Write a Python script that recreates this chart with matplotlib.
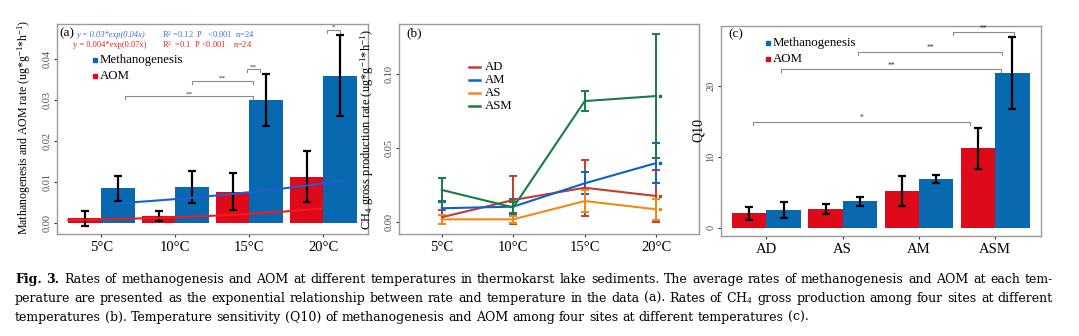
import numpy as np
import matplotlib
matplotlib.use("Agg")
import matplotlib.pyplot as plt

# ---------------- data ----------------
temps = ["5°C", "10°C", "15°C", "20°C"]

# (a) mean rates (ug g-1 h-1) and error
aom_rate = [0.0011, 0.0016, 0.0076, 0.0113]
aom_err = [0.0018, 0.0013, 0.0045, 0.0063]
meth_rate = [0.0084, 0.0087, 0.0301, 0.0360]
meth_err = [0.0031, 0.0039, 0.0064, 0.0100]

# exponential trend curves: start/end (x in category units, y in rate)
meth_trend_x = [0.225, 3.225]
meth_trend_y = [0.00475, 0.0102]
aom_trend_x = [-0.447, 2.98]
aom_trend_y = [0.00066, 0.0035]

# significance brackets for (a)
sig_a_x0 = [0.32, 1.22, 1.97, 3.05]
sig_a_x1 = [2.05, 2.05, 2.14, 3.23]
sig_a_y = [0.0309, 0.0347, 0.0376, 0.0472]
sig_a_lab = ["**", "**", "**", "*"]

# (b) CH4 gross production per site
sites = ["AD", "AM", "AS", "ASM"]
ad_rate = [0.0030, 0.0147, 0.0230, 0.0174]
ad_err = [0.0048, 0.0160, 0.0190, 0.0178]
am_rate = [0.0091, 0.0102, 0.0260, 0.0397]
am_err = [0.0047, 0.0054, 0.0075, 0.0138]
as_rate = [0.0016, 0.0016, 0.0140, 0.0084]
as_err = [0.0030, 0.0022, 0.0073, 0.0070]
asm_rate = [0.0215, 0.0097, 0.0817, 0.0851]
asm_err = [0.0082, 0.0035, 0.0065, 0.0420]

# (c) Q10 per site
q10_sites = ["AD", "AS", "AM", "ASM"]
q10_aom = [2.03, 2.59, 5.21, 11.18]
q10_aom_err = [0.90, 0.70, 2.10, 2.87]
q10_meth = [2.49, 3.72, 6.81, 21.83]
q10_meth_err = [1.08, 0.65, 0.58, 5.10]

sig_c_x0 = [-0.18, 0.19, 1.20, 2.44]
sig_c_x1 = [2.67, 3.08, 3.09, 3.24]
sig_c_y = [14.93, 22.3, 24.75, 27.5]
sig_c_lab = ["*", "**", "**", "**"]

caption_lines = [
    "Fig. 3. Rates of methanogenesis and AOM at different temperatures in thermokarst lake sediments. The average rates of methanogenesis and AOM at each tem-",
    "perature are presented as the exponential relationship between rate and temperature in the data (a). Rates of CH$_4$ gross production among four sites at different",
    "temperatures (b). Temperature sensitivity (Q10) of methanogenesis and AOM among four sites at different temperatures (c).",
]

# ---------------- style ----------------
plt.rcParams["font.family"] = ["Liberation Serif", "DejaVu Serif"]
plt.rcParams["mathtext.fontset"] = "custom"
plt.rcParams["mathtext.rm"] = "Liberation Serif"
plt.rcParams["mathtext.it"] = "Liberation Serif:italic"

RED = "#DE0A1A"
BLUE = "#0868B0"
SITE_COLORS = {"AD": "#C43C2A", "AM": "#0B63C9", "AS": "#F28A17", "ASM": "#1B7A45"}
SPINE = "#9A9A9A"
BRACKET = "#8A8A8A"

W, H = 1079, 336
fig = plt.figure(figsize=(W / 100, H / 100), dpi=100)


def rect(l, r, t, b):
    return [l / W, 1 - b / H, (r - l) / W, (b - t) / H]


def style_axes(ax):
    for s in ax.spines.values():
        s.set_color(SPINE)
        s.set_linewidth(1.0)
    ax.tick_params(axis="both", length=2, width=0.8, color="#333333")
    ax.tick_params(axis="y", labelsize=7.5, labelcolor="#4D4D4D", pad=2)
    ax.tick_params(axis="x", labelsize=10.5, labelcolor="black", pad=3)
    for lab in ax.get_yticklabels():
        lab.set_rotation(90)
        lab.set_va("center")


def bracket(ax, x0, x1, y, drop, label, fs, gap):
    ax.plot([x0, x0, x1, x1], [y - drop, y, y, y - drop], color=BRACKET, lw=0.8,
            solid_joinstyle="miter")
    ax.text((x0 + x1) / 2, y + gap, label, ha="center", va="baseline",
            fontsize=fs, color="#333333")


# ---------------- panel (a) ----------------
axa = fig.add_axes(rect(57, 367.7, 24, 234.3))
x = np.arange(len(temps))
bw = 0.45
axa.bar(x - bw / 2, aom_rate, width=bw, color=RED, zorder=2)
axa.bar(x + bw / 2, meth_rate, width=bw, color=BLUE, zorder=2)
axa.errorbar(x - bw / 2, aom_rate, yerr=aom_err, fmt="none", ecolor="black",
             elinewidth=1.6, capsize=2.7, capthick=1.6, zorder=3)
axa.errorbar(x + bw / 2, meth_rate, yerr=meth_err, fmt="none", ecolor="black",
             elinewidth=1.6, capsize=2.7, capthick=1.6, zorder=3)

tx = np.linspace(meth_trend_x[0], meth_trend_x[1], 60)
axa.plot(tx, np.geomspace(meth_trend_y[0], meth_trend_y[1], 60),
         color="#1C5FD6", lw=1.5, zorder=4)
tx = np.linspace(aom_trend_x[0], aom_trend_x[1], 60)
axa.plot(tx, np.geomspace(aom_trend_y[0], aom_trend_y[1], 60),
         color="#F21A1A", lw=1.5, zorder=4)

for x0, x1, y, lab in zip(sig_a_x0, sig_a_x1, sig_a_y, sig_a_lab):
    bracket(axa, x0, x1, y, 0.0007, lab, 5, 0.0002)

axa.set_xlim(-0.6, 3.6)
axa.set_ylim(-0.00284, 0.04864)
axa.set_xticks(x)
axa.set_xticklabels(temps)
axa.set_yticks([0, 0.01, 0.02, 0.03, 0.04])
axa.set_yticklabels(["0.00", "0.01", "0.02", "0.03", "0.04"])
style_axes(axa)
axa.set_ylabel("Mathanogenesis and AOM rate (ug*g$^{-1}$*h$^{-1}$)", fontsize=8.6)
axa.yaxis.set_label_coords(-0.077, 0.51)

axa.text(0.008, 0.957, "(a)", transform=axa.transAxes, fontsize=9.5, va="center")
axa.text(0.064, 0.948, "y = 0.03*exp(0.04x)", transform=axa.transAxes, fontsize=6.0,
         style="italic", color="#3F6BEF", va="center")
axa.text(0.339, 0.948, "R$^2$ =0.12  P   <0.001  n=24", transform=axa.transAxes,
         fontsize=6.0, color="#3F6BEF", va="center")
axa.text(0.051, 0.902, "y = 0.004*exp(0.07x)", transform=axa.transAxes, fontsize=6.0,
         color="#F21A1A", va="center")
axa.text(0.339, 0.902, "R$^2$  =0.1  P <0.001    n=24", transform=axa.transAxes,
         fontsize=6.0, color="#F21A1A", va="center")

axa.plot([0.122], [0.829], "s", color=BLUE, ms=3, transform=axa.transAxes)
axa.text(0.138, 0.829, "Methanogenesis", transform=axa.transAxes, fontsize=9.3,
         va="center")
axa.plot([0.122], [0.753], "s", color=RED, ms=3, transform=axa.transAxes)
axa.text(0.138, 0.753, "AOM", transform=axa.transAxes, fontsize=9.3, va="center")

# ---------------- panel (b) ----------------
axb = fig.add_axes(rect(399, 699, 24, 234.3))
series_b = {"AD": (ad_rate, ad_err), "AM": (am_rate, am_err),
            "AS": (as_rate, as_err), "ASM": (asm_rate, asm_err)}
for name in sites:
    vals, errs = series_b[name]
    c = SITE_COLORS[name]
    axb.errorbar(x, vals, yerr=errs, color=c, lw=1.5, elinewidth=1.4,
                 capsize=2.6, capthick=1.4)
    axb.plot([x[-1] + 0.05], [vals[-1]], "s", color=c, ms=1.6)

axb.set_xlim(-0.6, 3.6)
axb.set_ylim(-0.00853, 0.1339)
axb.set_xticks(x)
axb.set_xticklabels(temps)
axb.set_yticks([0, 0.05, 0.10])
axb.set_yticklabels(["0.00", "0.05", "0.10"])
style_axes(axb)
axb.set_ylabel("CH$_4$ gross production rate (ug*g$^{-1}$*h$^{-1}$)", fontsize=9.0)
axb.yaxis.set_label_coords(-0.075, 0.496)
axb.text(0.023, 0.957, "(b)", transform=axb.transAxes, fontsize=9.5, va="center")

for i, name in enumerate(sites):
    yy = [0.796, 0.734, 0.672, 0.610][i]
    axb.plot([0.232, 0.270], [yy, yy], color=SITE_COLORS[name], lw=1.8,
             transform=axb.transAxes)
    axb.text(0.287, yy, name, transform=axb.transAxes, fontsize=9.2, va="center")

# ---------------- panel (c) ----------------
axc = fig.add_axes(rect(720.7, 1041, 26, 236))
xc = np.arange(len(q10_sites))
axc.bar(xc - bw / 2, q10_aom, width=bw, color=RED, zorder=2)
axc.bar(xc + bw / 2, q10_meth, width=bw, color=BLUE, zorder=2)
axc.errorbar(xc - bw / 2, q10_aom, yerr=q10_aom_err, fmt="none", ecolor="black",
             elinewidth=1.6, capsize=2.7, capthick=1.6, zorder=3)
axc.errorbar(xc + bw / 2, q10_meth, yerr=q10_meth_err, fmt="none", ecolor="black",
             elinewidth=1.6, capsize=2.7, capthick=1.6, zorder=3)
for x0, x1, y, lab in zip(sig_c_x0, sig_c_x1, sig_c_y, sig_c_lab):
    bracket(axc, x0, x1, y, 0.4, lab, 5.5, 0.25)

axc.set_xlim(-0.6, 3.6)
axc.set_ylim(-1.17, 28.41)
axc.set_xticks(xc)
axc.set_xticklabels(q10_sites)
axc.set_yticks([0, 10, 20])
style_axes(axc)
axc.set_ylabel("Q10", fontsize=10)
axc.yaxis.set_label_coords(-0.049, 0.505)
axc.text(0.023, 0.962, "(c)", transform=axc.transAxes, fontsize=9.5, va="center")
axc.plot([0.149], [0.920], "s", color=BLUE, ms=3, transform=axc.transAxes)
axc.text(0.163, 0.920, "Methanogenesis", transform=axc.transAxes, fontsize=9.3,
         va="center")
axc.plot([0.149], [0.841], "s", color=RED, ms=3, transform=axc.transAxes)
axc.text(0.163, 0.841, "AOM", transform=axc.transAxes, fontsize=9.3, va="center")

# ---------------- caption (justified) ----------------
CAP_FONT = "DejaVu Serif"
renderer = fig.canvas.get_renderer()


def text_width(s, fs, weight="normal"):
    t = fig.text(0, 0, s, fontsize=fs, family=CAP_FONT, weight=weight)
    w = t.get_window_extent(renderer).width
    t.remove()
    return w


cap_left, cap_right = 15, 1053
line3_target = 797
fs_cap = 9.0 * line3_target / text_width(caption_lines[2], 9.0)
space_w = text_width("x x", fs_cap) - text_width("xx", fs_cap)
baselines = [283, 302, 321]

for li, line in enumerate(caption_lines):
    words = line.split(" ")
    weights = ["bold" if (li == 0 and wi < 2) else "normal" for wi in range(len(words))]
    widths = [text_width(wd, fs_cap, wt) for wd, wt in zip(words, weights)]
    if li < 2:
        gap = (cap_right - cap_left - sum(widths)) / (len(words) - 1)
    else:
        gap = space_w
    xpos = cap_left
    for wd, wt, ww in zip(words, weights, widths):
        fig.text(xpos / W, 1 - baselines[li] / H, wd, fontsize=fs_cap,
                 family=CAP_FONT, weight=wt, va="baseline", ha="left")
        xpos += ww + gap

fig.savefig("out.png", dpi=100)
